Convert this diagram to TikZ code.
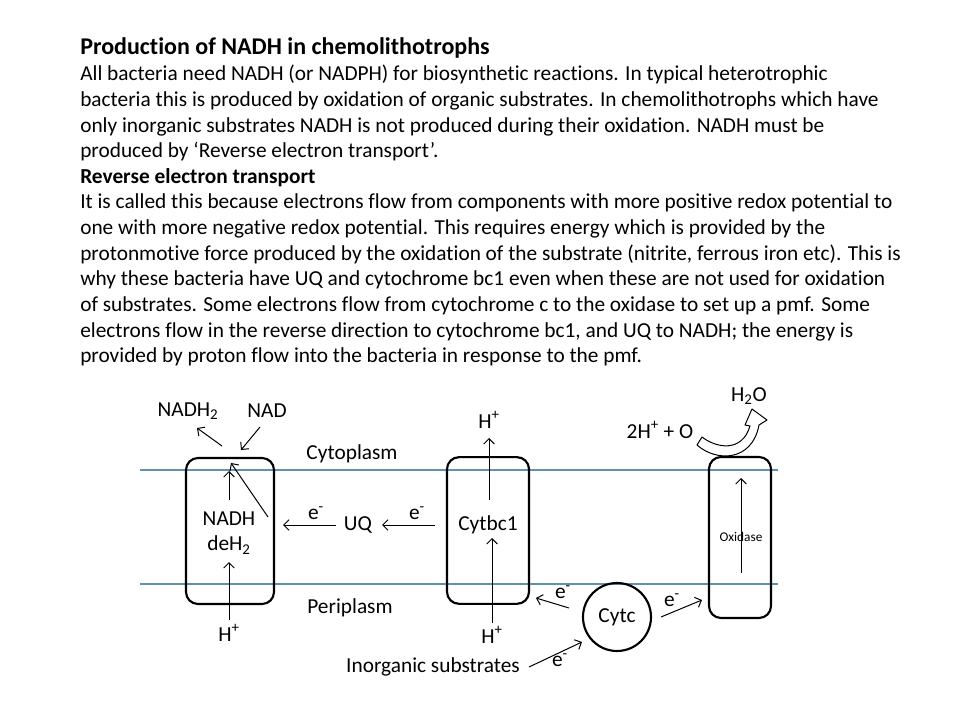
\documentclass[tikz,border=0pt]{standalone}
\usepackage{fontspec}
\setmainfont{Carlito}[RawFeature={-liga;-clig;-dlig;-calt}]
\usetikzlibrary{arrows.meta}
\definecolor{membc}{RGB}{96,146,176}
\begin{document}
\begin{tikzpicture}[x=0.75pt,y=-0.75pt,
  body/.style={anchor=base west, inner sep=0, font=\fontsize{16}{19.2}\selectfont},
  ttl/.style={anchor=base west, inner sep=0, font=\fontsize{18}{21.6}\selectfont\bfseries},
  lbl/.style={inner sep=0, font=\fontsize{16}{19.2}\selectfont},
  memb/.style={draw=membc, line width=0.8pt},
  prot/.style={draw, line width=1.6pt, rounded corners=9pt, inner sep=0},
  arr/.style={-{Straight Barb[length=4pt,width=8pt]}, line width=0.75pt}]
\useasboundingbox (0,0) rectangle (960,720);
% text
\node[ttl] (t0) at (80,55) {Production of NADH in chemolithotrophs};
\node[body] (t1) at (80,81) {All bacteria need NADH (or NADPH) for biosynthetic reactions. In typical heterotrophic};
\node[body] (t2) at (80,106.6) {bacteria this is produced by oxidation of organic substrates. In chemolithotrophs which have};
\node[body] (t3) at (80,132.2) {only inorganic substrates NADH is not produced during their oxidation. NADH must be};
\node[body] (t4) at (80,157.8) {produced by ‘Reverse electron transport’.};
\node[body,font=\fontsize{16}{19.2}\selectfont\bfseries] (t5) at (80,183.4) {Reverse electron transport};
\node[body] (t6) at (80,209) {It is called this because electrons flow from components with more positive redox potential to};
\node[body] (t7) at (80,234.6) {one with more negative redox potential. This requires energy which is provided by the};
\node[body] (t8) at (80,260.2) {protonmotive force produced by the oxidation of the substrate (nitrite, ferrous iron etc). This is};
\node[body] (t9) at (80,285.8) {why these bacteria have UQ and cytochrome bc1 even when these are not used for oxidation};
\node[body] (t10) at (80,311.4) {of substrates. Some electrons flow from cytochrome c to the oxidase to set up a pmf. Some};
\node[body] (t11) at (80,337) {electrons flow in the reverse direction to cytochrome bc1, and UQ to NADH; the energy is};
\node[body] (t12) at (80,362.6) {provided by proton flow into the bacteria in response to the pmf.};
% membranes
\coordinate (m1a) at (140,470); \coordinate (m1b) at (778,470);
\coordinate (m2a) at (140,584); \coordinate (m2b) at (778,584);
\draw[memb] (m1a) -- (m1b);
\draw[memb] (m2a) -- (m2b);
% proteins
\node[prot, minimum width=66pt, minimum height=109.5pt] (nadh) at (230,531) {};
\node[prot, minimum width=61.5pt, minimum height=110pt] (bc1) at (488,530.5) {};
\node[prot, minimum width=46.5pt, minimum height=120.75pt] (oxi) at (740,537.5) {};
\node[draw, circle, line width=1.6pt, minimum size=51pt, inner sep=0, font=\fontsize{16}{19.2}\selectfont] (cytc) at (617,617) {Cytc};
% labels
\node[lbl] (nadh2) at (188,411) {NADH\textsubscript{2}};
\node[lbl] (nad) at (267,411) {NAD};
\node[lbl] (cyto) at (352,454) {Cytoplasm};
\node[lbl] (peri) at (350,608) {Periplasm};
\node[lbl] (nadhtxt) at (229,519) {NADH};
\node[lbl] (dehtxt) at (229,545) {deH\textsubscript{2}};
\node[lbl] (hp1) at (229,633) {H\textsuperscript{+}};
\node[lbl] (uq) at (358,525) {UQ};
\node[lbl] (e1) at (316,513) {e\textsuperscript{-}};
\node[lbl] (e2) at (417,513) {e\textsuperscript{-}};
\node[lbl] (bc1txt) at (488,525) {Cytbc1};
\node[lbl] (hp2) at (489,420) {H\textsuperscript{+}};
\node[lbl] (hp3) at (492,635) {H\textsuperscript{+}};
\node[inner sep=0, font=\fontsize{10}{12}\selectfont] (oxitxt) at (741,537) {Oxidase};
\node[lbl] (e3) at (563,592) {e\textsuperscript{-}};
\node[lbl] (e4) at (672,600) {e\textsuperscript{-}};
\node[lbl] (e5) at (560,660) {e\textsuperscript{-}};
\node[lbl] (inorg) at (433,667) {Inorganic substrates};
\node[lbl] (ho) at (660,430) {2H\textsuperscript{+} + O};
\node[lbl] (h2o) at (749,396) {H\textsubscript{2}O};
% arrow end points
\coordinate (a1s) at (222,446); \coordinate (a1e) at (197,428);
\coordinate (a2s) at (260,427); \coordinate (a2e) at (241,450);
\coordinate (a3s) at (229,500); \coordinate (a3e) at (229,471);
\coordinate (a4s) at (268,517); \coordinate (a4e) at (231,463);
\coordinate (a5s) at (229,620); \coordinate (a5e) at (229,562);
\coordinate (a6s) at (336,525); \coordinate (a6e) at (283,525);
\coordinate (a7s) at (435,525); \coordinate (a7e) at (382,525);
\coordinate (a8s) at (489,500); \coordinate (a8e) at (489,438);
\coordinate (a9s) at (492,623); \coordinate (a9e) at (492,538);
\coordinate (a10s) at (569,608); \coordinate (a10e) at (536,598);
\coordinate (a11s) at (661,617); \coordinate (a11e) at (702,600);
\coordinate (a12s) at (529,667); \coordinate (a12e) at (582,642);
\coordinate (a13s) at (741,573); \coordinate (a13e) at (741,478);
\draw[arr] (a1s) -- (a1e);
\draw[arr] (a2s) -- (a2e);
\draw[arr] (a3s) -- (a3e);
\draw[arr] (a4s) -- (a4e);
\draw[arr] (a5s) -- (a5e);
\draw[arr] (a6s) -- (a6e);
\draw[arr] (a7s) -- (a7e);
\draw[arr] (a8s) -- (a8e);
\draw[arr] (a9s) -- (a9e);
\draw[arr] (a10s) -- (a10e);
\draw[arr] (a11s) -- (a11e);
\draw[arr] (a12s) -- (a12e);
\draw[arr] (a13s) -- (a13e);
% hollow curved arrow
\draw[line width=0.75pt, fill=white, line join=round]
  (697,445) -- (702,437)
  .. controls (716,448) and (742,453) .. (750,426)
  -- (745,425) -- (752,409) -- (767,420) -- (759,425)
  .. controls (752,462) and (716,462) .. cycle;
\end{tikzpicture}
\end{document}
